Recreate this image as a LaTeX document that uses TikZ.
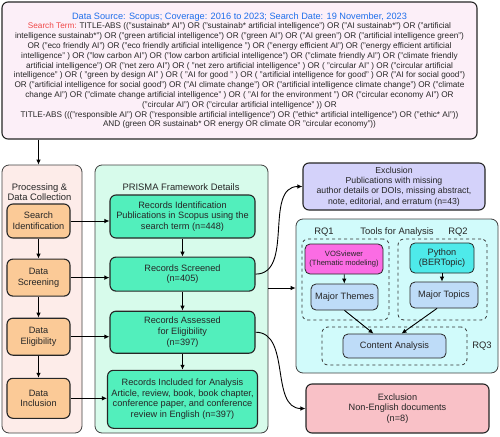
\documentclass[tikz,border=0pt]{standalone}
\usepackage{fontspec}
\setmainfont{Liberation Sans}
\usepackage{xcolor}
\usetikzlibrary{arrows.meta,positioning}

\definecolor{topfill}{HTML}{FCEFF8}
\definecolor{procfill}{HTML}{FDECE9}
\definecolor{stepfill}{HTML}{FBCA97}
\definecolor{prismafill}{HTML}{D7FBEB}
\definecolor{recfill}{HTML}{52EFBC}
\definecolor{exclfill}{HTML}{D4D2FA}
\definecolor{toolfill}{HTML}{D1FBFB}
\definecolor{vosfill}{HTML}{FB6CE4}
\definecolor{pyfill}{HTML}{4EEAEA}
\definecolor{outfill}{HTML}{BEDCF8}
\definecolor{langfill}{HTML}{F9C1C7}
\definecolor{srcblue}{HTML}{1F6FEB}
\definecolor{termred}{HTML}{F04848}
\definecolor{txt}{HTML}{262626}

\begin{document}
\begin{tikzpicture}[x=1pt, y=-1pt, >={Latex[length=5pt,width=4.6pt]}, line width=0.9pt, node distance=20pt and 40pt,
  font=\fontsize{9.2}{10.6}\selectfont, text=txt,
  panel/.style = {draw=black!75, line width=0.8pt, rounded corners=7pt},
  main/.style = {draw=black!85, line width=1.1pt, rounded corners=6pt, align=center, inner sep=1pt},
  stepbox/.style = {main, fill=stepfill, minimum width=63pt},
  rec/.style = {main, fill=recfill, minimum width=145pt},
  tool/.style = {main, line width=0.8pt, rounded corners=5pt},
  rq/.style = {draw=black!80, dashed, line width=0.8pt, rounded corners=6pt},
  head/.style = {align=center, font=\fontsize{9.4}{10.5}\selectfont}]
\useasboundingbox (0,0) rectangle (500,436);

% search query
\node[main, fill=topfill, minimum width=475pt, minimum height=137pt, font=\fontsize{8.2}{9.8}\selectfont] (source) at (239.5,70.5)
 {{\color{srcblue}\fontsize{9.2}{10}\selectfont Data Source: Scopus; Coverage: 2016 to 2023; Search Date: 19 November, 2023}\\
  \textcolor{termred}{Search Term:} TITLE-ABS (("sustainab* AI") OR ("sustainab* artificial intelligence") OR ("AI sustainab*") OR ("artificial\\
  intelligence sustainab*") OR ("green artificial intelligence") OR ("green AI") OR ("AI green") OR ("artificial intelligence green")\\
  OR ("eco friendly AI") OR ("eco friendly artificial intelligence ") OR ("energy efficient AI") OR ("energy efficient artificial\\
  intelligence" ) OR ("low carbon AI") OR ("low carbon artificial intelligence") OR ("climate friendly AI") OR ("climate friendly\\
  artificial intelligence") OR ("net zero AI") OR ( "net zero artificial intelligence" ) OR ( "circular AI" ) OR ("circular artificial\\
  intelligence" ) OR ( "green by design AI" ) OR ( "AI for good " ) OR ( "artificial intelligence for good" ) OR ("AI for social good")\\
  OR ("artificial intelligence for social good") OR ("AI climate change") OR ("artificial intelligence climate change") OR ("climate\\
  change AI") OR ("climate change artificial intelligence" ) OR ( "AI for the environment ") OR ("circular economy AI") OR\\
  ("circular AI") OR ("circular artificial intelligence" )) OR\\
  TITLE-ABS ((("responsible AI") OR ("responsible artificial intelligence") OR ("ethic* artificial intelligence") OR ("ethic* AI"))\\
  AND (green OR sustainab* OR energy OR climate OR "circular economy"))};

% panels
\node[panel, fill=procfill, minimum width=80pt, minimum height=268pt] (proc) at (42,299) {};
\node[head] (proctitle) at (39.5,192) {Processing \&\\Data Collection};
\node[panel, fill=prismafill, minimum width=173pt, minimum height=268pt] (prisma) at (181.5,299) {};
\node[head] (prismatitle) at (181,187) {PRISMA Framework Details};

% processing steps
\node[stepbox, minimum height=34pt] (srch) at (38.5,221) {Search\\Identification};
\node[stepbox, minimum height=37pt, below=of srch] (scrn) {Data\\Screening};
\node[stepbox, minimum height=37pt, below=21pt of scrn] (elig) {Data\\Eligibility};
\node[stepbox, minimum height=40pt, below=22pt of elig] (incl) {Data\\Inclusion};

% prisma records
\node[rec, minimum height=43pt] (rid) at (182.5,216.5) {Records Identification\\Publications in Scopus using the\\search term (n=448)};
\node[rec, minimum height=34pt, below=18pt of rid] (rsc) {Records Screened\\(n=405)};
\node[rec, minimum height=42pt, below=19pt of rsc] (ras) {Records Assessed\\for Eligibility\\(n=397)};
\node[rec, minimum width=150pt, minimum height=58pt, below=16pt of ras] (rin) {Records Included for Analysis\\Article, review, book, book chapter,\\conference paper, and conference\\review in English (n=397)};

% exclusions
\node[main, fill=exclfill, minimum width=182pt, minimum height=47pt, font=\fontsize{8.7}{10.2}\selectfont] (excl) at (394,186.5) {Exclusion\\Publications with missing\\author details or DOIs, missing abstract,\\note, editorial, and erratum (n=43)};
\node[main, fill=langfill, minimum width=183pt, minimum height=49pt] (lang) at (397.5,408.5) {Exclusion\\Non-English documents\\(n=8)};

% analysis tools
\node[panel, fill=toolfill, minimum width=202pt, minimum height=154pt] (tools) at (397,296) {};
\node[head] (toolstitle) at (397,232) {Tools for Analysis};
\node[rq, minimum width=87pt, minimum height=81pt] (rq1) at (345.5,279.5) {};
\node[rq, minimum width=89pt, minimum height=81pt] (rq2) at (442.5,279.5) {};
\node[rq, minimum width=145pt, minimum height=38pt] (rq3) at (394.5,346) {};
\node[head] (rq1label) at (324,232) {RQ1};
\node[head] (rq2label) at (458,232) {RQ2};
\node[head] (rq3label) at (482,346) {RQ3};
\node[tool, fill=vosfill, minimum width=78pt, minimum height=30pt, font=\fontsize{7.6}{9.2}\selectfont] (vos) at (344,259) {VOSviewer\\(Thematic modeling)};
\node[tool, fill=pyfill, minimum width=64pt, minimum height=30pt] (py) at (442,258) {Python\\(BERTopic)};
\node[tool, fill=outfill, minimum width=67pt, minimum height=26pt] (themes) at (344.5,297) {Major Themes};
\node[tool, fill=outfill, minimum width=68pt, minimum height=26pt] (topics) at (444,295) {Major Topics};
\node[tool, fill=outfill, minimum width=103pt, minimum height=24pt] (content) at (394.5,346) {Content Analysis};

% connectors
\draw[->] (source.south -| srch) -- (proc.north -| srch);
\foreach \a/\b in {srch/scrn, scrn/elig, elig/incl, rid/rsc, rsc/ras, ras/rin, vos/themes}
  \draw[->] (\a) -- (\b);
\draw[->] (py) -- (py |- topics.north);
\foreach \a/\b in {srch/rid, scrn/rsc, elig/ras, incl/rin}
  \draw[->] (\a.east) -- (\a.east -| \b.west);
\draw[->] (rsc.east) to[out=0, in=180] (excl.west);
\draw[->] (ras.east) to[out=0, in=180] (lang.west);
\draw[->] ([yshift=8pt]tools.west -| prisma.east) -- ([yshift=8pt]tools.west);
\draw[->] (themes.south) -- ([xshift=-21pt]content.north);
\draw[->] ([xshift=-7pt]topics.south) -- ([xshift=7pt]content.north);
\end{tikzpicture}
\end{document}
